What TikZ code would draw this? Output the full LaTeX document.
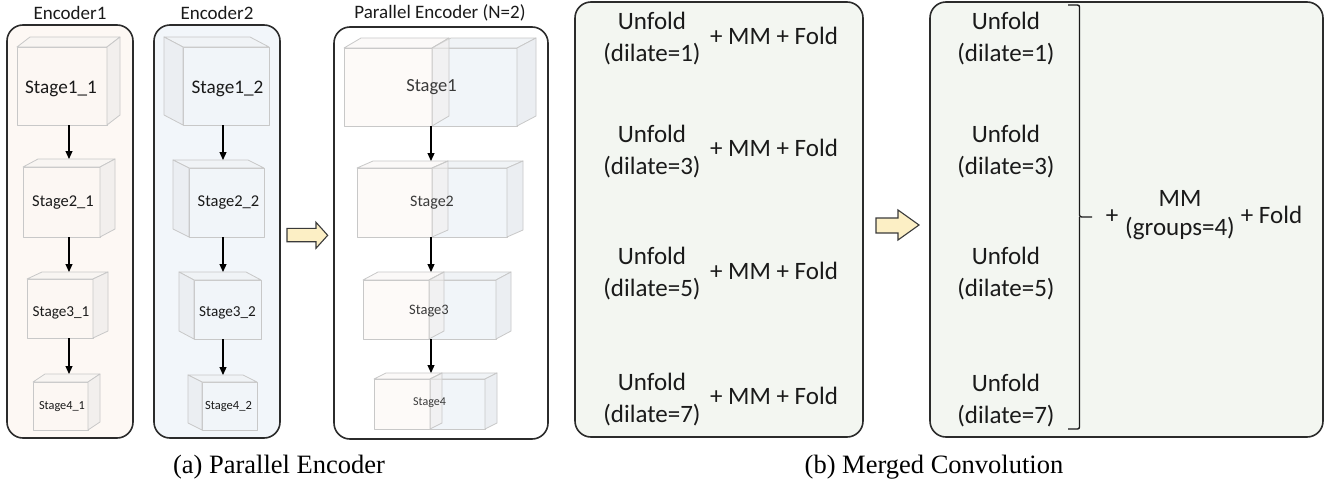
\documentclass[tikz,border=0pt]{standalone}
\usepackage{fontspec}
\setmainfont{Carlito}
\newfontfamily\capfont{Liberation Serif}
\usetikzlibrary{calc,arrows.meta}

\newcommand\fsz[2]{\fontsize{#1}{#2}\selectfont}

\definecolor{encApanel}{HTML}{FDF8F4}
\definecolor{encAfront}{HTML}{FCF7F3}
\definecolor{encAtop}{HTML}{F8F5F2}
\definecolor{encAside}{HTML}{F2EFED}
\definecolor{encBpanel}{HTML}{F2F6FA}
\definecolor{encBfront}{HTML}{F1F5F9}
\definecolor{encBtop}{HTML}{F0F3F6}
\definecolor{encBside}{HTML}{EBEEF2}
\definecolor{mergepanel}{HTML}{F3F6F1}
\definecolor{edgegray}{HTML}{C8C8C8}
\definecolor{framegray}{HTML}{2B2B2B}
\definecolor{hintfill}{HTML}{FCEFC5}
\definecolor{inkdark}{HTML}{1A1A1A}
\definecolor{inksoft}{HTML}{3A3A3A}

\tikzset{
  panel/.style={draw=framegray, line width=1.6pt, rounded corners=16pt,
    inner sep=0pt, outer sep=0pt},
  cubebox/.style={rectangle, inner sep=0pt, outer sep=0pt},
  cubeface/.style={draw=edgegray, line width=0.8pt, line join=round},
  title/.style={font=\fsz{19}{23}, text=inkdark, inner sep=0pt},
  stagelbl/.style={text=inkdark, inner sep=0pt},
  mergelbl/.style={text=inksoft, inner sep=0pt},
  flow/.style={-{Triangle[length=8pt,width=7pt]}, line width=1.2pt, black},
  mtxt/.style={font=\fsz{25}{32}, align=center, text=inkdark, inner sep=0pt},
  mstack/.style={font=\fsz{25}{29}, align=center, text=inkdark, inner sep=0pt},
  caption/.style={font=\capfont\fsz{26.5}{30}, text=black, inner sep=0pt},
  hint/.style={draw=inksoft, line width=1.1pt, fill=hintfill, line join=miter},
  bracket/.style={draw=inkdark, line width=1.4pt, rounded corners=2pt},
}

% cuboid with its depth to the upper right: #2 outline node, #3 depth x, #4 depth y
\newcommand\cubeR[5][1]{%
  \filldraw[cubeface, fill=#5front, fill opacity=#1]
    ($(#2.north west)+(0,#4)$) rectangle ($(#2.south east)+(-#3,0)$);
  \filldraw[cubeface, fill=#5top, fill opacity=#1]
    ($(#2.north west)+(0,#4)$) -- ($(#2.north west)+(#3,0)$) -- (#2.north east)
    -- ($(#2.north east)+(-#3,#4)$) -- cycle;
  \filldraw[cubeface, fill=#5side, fill opacity=#1]
    ($(#2.north east)+(-#3,#4)$) -- (#2.north east) -- ($(#2.south east)+(0,-#4)$)
    -- ($(#2.south east)+(-#3,0)$) -- cycle;
}
% cuboid with its depth to the upper left
\newcommand\cubeL[5][1]{%
  \filldraw[cubeface, fill=#5front, fill opacity=#1]
    ($(#2.north west)+(#3,#4)$) rectangle (#2.south east);
  \filldraw[cubeface, fill=#5top, fill opacity=#1]
    ($(#2.north west)+(#3,#4)$) -- (#2.north west) -- ($(#2.north east)+(-#3,0)$)
    -- ($(#2.north east)+(0,#4)$) -- cycle;
  \filldraw[cubeface, fill=#5side, fill opacity=#1]
    ($(#2.north west)+(#3,#4)$) -- (#2.north west) -- ($(#2.south west)+(0,-#4)$)
    -- ($(#2.south west)+(#3,0)$) -- cycle;
}

\begin{document}
\begin{tikzpicture}[x=1pt, y=-1pt]
\useasboundingbox (0,0) rectangle (1332,490);

% ---------- panels ----------
\node[panel, fill=encApanel, minimum width=126pt, minimum height=413pt] (encA) at (70,231.5) {};
\node[panel, fill=encBpanel, minimum width=126pt, minimum height=413pt] (encB) at (217,231.5) {};
\node[panel, fill=white, minimum width=214pt, minimum height=412pt] (par) at (441,233) {};
\node[panel, fill=mergepanel, minimum width=288pt, minimum height=435pt] (sep) at (719,219.5) {};
\node[panel, fill=mergepanel, minimum width=393pt, minimum height=435pt] (mrg) at (1126.5,219.5) {};

\node[title] (encAt) at (70,13) {Encoder1};
\node[title] (encBt) at (217,13) {Encoder2};
\node[title] (part) at (440,13) {Parallel Encoder (N=2)};

% ---------- Encoder1 ----------
\node[cubebox, minimum width=103pt, minimum height=88pt] (s11) at (68.5,81) {};
\node[cubebox, minimum width=92pt, minimum height=78pt] (s21) at (69,198) {};
\node[cubebox, minimum width=81pt, minimum height=66pt] (s31) at (67.5,305) {};
\node[cubebox, minimum width=67pt, minimum height=56pt] (s41) at (66.5,402) {};
\cubeR{s11}{13}{10}{encA}
\cubeR{s21}{15}{8}{encA}
\cubeR{s31}{15}{7}{encA}
\cubeR{s41}{12}{8}{encA}
\node[stagelbl, font=\fsz{19.2}{22}] (s11t) at (61,89) {Stage1\_1};
\node[stagelbl, font=\fsz{16.5}{19}] (s21t) at (63,203) {Stage2\_1};
\node[stagelbl, font=\fsz{15.2}{18}] (s31t) at (61,313) {Stage3\_1};
\node[stagelbl, font=\fsz{12.3}{15}] (s41t) at (62,407) {Stage4\_1};

% ---------- Encoder2 ----------
\node[cubebox, minimum width=105pt, minimum height=88pt] (s12) at (216.5,81) {};
\node[cubebox, minimum width=91pt, minimum height=77pt] (s22) at (218.5,198.5) {};
\node[cubebox, minimum width=82pt, minimum height=67pt] (s32) at (220,305.5) {};
\node[cubebox, minimum width=69pt, minimum height=55pt] (s42) at (222.5,402.5) {};
\cubeL{s12}{19}{10}{encB}
\cubeL{s22}{16}{8}{encB}
\cubeL{s32}{15}{8}{encB}
\cubeL{s42}{14}{7}{encB}
\node[stagelbl, font=\fsz{19.2}{22}] (s12t) at (227.5,89) {Stage1\_2};
\node[stagelbl, font=\fsz{16.5}{19}] (s22t) at (228.5,203) {Stage2\_2};
\node[stagelbl, font=\fsz{15.2}{18}] (s32t) at (227.5,313) {Stage3\_2};
\node[stagelbl, font=\fsz{12.5}{15}] (s42t) at (228.5,407) {Stage4\_2};

% ---------- Parallel encoder: both stage cuboids side by side ----------
\node[cubebox, minimum width=104pt, minimum height=88pt] (p1b) at (484,82) {};
\node[cubebox, minimum width=105pt, minimum height=88pt] (p1o) at (396.5,82) {};
\node[cubebox, minimum width=91pt, minimum height=76pt] (p2b) at (477.5,199) {};
\node[cubebox, minimum width=91pt, minimum height=76pt] (p2o) at (402.5,199) {};
\node[cubebox, minimum width=82pt, minimum height=67pt] (p3b) at (470,305.5) {};
\node[cubebox, minimum width=81pt, minimum height=67pt] (p3o) at (403.5,305.5) {};
\node[cubebox, minimum width=67pt, minimum height=56pt] (p4b) at (463.5,401) {};
\node[cubebox, minimum width=68pt, minimum height=56pt] (p4o) at (408,401) {};
\cubeR{p1b}{19}{10}{encB}
\cubeR[0.5]{p1o}{17}{10}{encA}
\cubeR{p2b}{16}{7}{encB}
\cubeR[0.5]{p2o}{16}{7}{encA}
\cubeR{p3b}{15}{8}{encB}
\cubeR[0.5]{p3o}{15}{8}{encA}
\cubeR{p4b}{12}{6}{encB}
\cubeR[0.5]{p4o}{12}{6}{encA}
\node[mergelbl, font=\fsz{18.5}{22}] (p1t) at (431.5,87) {Stage1};
\node[mergelbl, font=\fsz{16}{19}] (p2t) at (432,203) {Stage2};
\node[mergelbl, font=\fsz{14.5}{17}] (p3t) at (429,311) {Stage3};
\node[mergelbl, font=\fsz{12}{15}] (p4t) at (429.5,403) {Stage4};

% ---------- stage flow ----------
\coordinate (axA) at (69,0);
\coordinate (axB) at (223,0);
\coordinate (axP) at (431,0);
\draw[flow] (s11.south -| axA) -- (s21.north -| axA);
\draw[flow] (s21.south -| axA) -- (s31.north -| axA);
\draw[flow] (s31.south -| axA) -- (s41.north -| axA);
\draw[flow] (s12.south -| axB) -- (s22.north -| axB);
\draw[flow] (s22.south -| axB) -- (s32.north -| axB);
\draw[flow] (s32.south -| axB) -- (s42.north -| axB);
\draw[flow] (p1o.south -| axP) -- (p2o.north -| axP);
\draw[flow] (p2o.south -| axP) -- (p3o.north -| axP);
\draw[flow] (p3o.south -| axP) -- (p4o.north -| axP);

% ---------- block arrows ----------
\draw[hint] (287,228.3) -- (316,228.3) -- (316,222.3) -- (327.7,235.3)
  -- (316,248.3) -- (316,241.7) -- (287,241.7) -- cycle;
\draw[hint] (876,218) -- (898,218) -- (898,210) -- (919,225)
  -- (898,240) -- (898,233) -- (876,233) -- cycle;

% ---------- separate convolutions ----------
\node[mtxt] (u1) at (652,38.5) {Unfold\\(dilate=1)};
\node[mtxt] (u3) at (652,152) {Unfold\\(dilate=3)};
\node[mtxt] (u5) at (652,273.6) {Unfold\\(dilate=5)};
\node[mtxt] (u7) at (652,399.6) {Unfold\\(dilate=7)};
\node[mtxt] (f1) at (774,36.3) {+ MM + Fold};
\node[mtxt] (f3) at (774,148) {+ MM + Fold};
\node[mtxt] (f5) at (774,271.3) {+ MM + Fold};
\node[mtxt] (f7) at (774,396.3) {+ MM + Fold};

% ---------- merged convolution ----------
\node[mtxt] (v1) at (1006,38.5) {Unfold\\(dilate=1)};
\node[mtxt] (v3) at (1006,152) {Unfold\\(dilate=3)};
\node[mtxt] (v5) at (1006,273.6) {Unfold\\(dilate=5)};
\node[mtxt] (v7) at (1006,400.3) {Unfold\\(dilate=7)};
\draw[bracket] (1068,5) -- (1079.5,5) -- (1079.5,217) -- (1092,217);
\draw[bracket] (1068,429) -- (1079.5,429) -- (1079.5,217);
\node[mtxt] (plus) at (1112,217) {+};
\node[mstack] (mm) at (1180,215.5) {MM\\(groups=4)};
\node[mtxt] (fold) at (1271.5,215.3) {+ Fold};

% ---------- captions ----------
\node[caption] (capA) at (279,467) {(a) Parallel Encoder};
\node[caption] (capB) at (934,467) {(b) Merged Convolution};
\end{tikzpicture}
\end{document}
